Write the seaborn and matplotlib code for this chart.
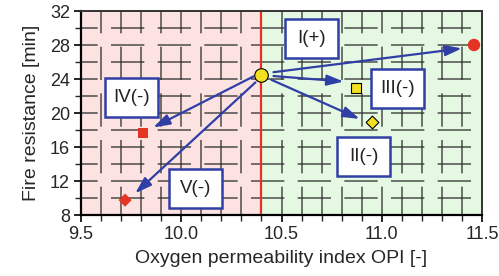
"""Fire resistance vs oxygen permeability index, with improvement arrows."""

import matplotlib
matplotlib.use("Agg")
import matplotlib.pyplot as plt
from matplotlib.patches import Rectangle
from matplotlib.ticker import MultipleLocator, FormatStrFormatter
import seaborn as sns

# data
ref_opi = 10.4
ref_fire = 24.5

target_opi = [11.46, 10.87, 10.95, 9.81, 9.72]
target_fire = [28.0, 23.0, 18.9, 17.6, 9.75]
target_marker = ["o", "s", "D", "s", "D"]
target_color = ["#e53324", "#f3e022", "#f3e022", "#e53324", "#e53324"]
target_size = [80, 50, 42, 50, 45]
target_edge = ["none", "black", "black", "none", "none"]

# arrow tips (arrows stop a little before each point)
tip_opi = [11.40, 10.81, 10.89, 9.86, 9.77]
tip_fire = [27.6, 23.7, 19.3, 18.3, 10.55]
start_opi = [10.46, 10.46, 10.45, 10.36, 10.37]
start_fire = [24.8, 24.35, 23.9, 24.3, 23.6]

labels = ["I(+)", "III(-)", "II(-)", "IV(-)", "V(-)"]
label_opi = [10.65, 11.08, 10.91, 9.75, 10.07]
label_fire = [28.8, 22.9, 14.9, 21.8, 11.1]

sns.set_style("ticks")
plt.rcParams["font.family"] = ["Liberation Sans", "DejaVu Sans"]

fig = plt.figure(figsize=(4.99, 2.76), dpi=100)
ax = fig.add_axes([81 / 499, 1 - 215 / 276, 401 / 499, 204 / 276])

ax.set_xlim(9.5, 11.5)
ax.set_ylim(8, 32)

# coloured halves
ax.axvspan(9.5, ref_opi, color="#fde2e2", zorder=0)
ax.axvspan(ref_opi, 11.5, color="#e5f8e1", zorder=0)

ax.xaxis.set_major_locator(MultipleLocator(0.5))
ax.xaxis.set_minor_locator(MultipleLocator(0.1))
ax.yaxis.set_major_locator(MultipleLocator(4))
ax.yaxis.set_minor_locator(MultipleLocator(2))
ax.xaxis.set_major_formatter(FormatStrFormatter("%.1f"))

# broken grid lines like in the original
ax.grid(False)
for x in [9.5 + 0.1 * i for i in range(1, 20)]:
    ax.plot([x, x], [8, 32], color="#333333", lw=1.2, alpha=0.8,
            linestyle=(3, (20, 8)), zorder=1)
for y in range(10, 32, 2):
    ax.plot([9.5, 11.5], [y, y], color="#333333", lw=1.2, alpha=0.8,
            linestyle=(10, (20, 8)), zorder=1)

ax.axvline(ref_opi, color="#e53324", lw=1.6, zorder=2)

for i in range(len(labels)):
    ax.annotate("", xy=(tip_opi[i], tip_fire[i]),
                xytext=(start_opi[i], start_fire[i]),
                arrowprops=dict(arrowstyle="-|>,head_length=1.0,head_width=0.32",
                                color="#2f3fa6", lw=1.6, shrinkA=0, shrinkB=0),
                zorder=4)

for i in range(len(target_opi)):
    sns.scatterplot(x=[target_opi[i]], y=[target_fire[i]], marker=target_marker[i],
                    s=target_size[i], color=target_color[i],
                    edgecolor=target_edge[i], linewidth=0.8, ax=ax, zorder=5,
                    legend=False)
sns.scatterplot(x=[ref_opi], y=[ref_fire], marker="o", s=95, color="#f3e022",
                edgecolor="black", linewidth=0.8, ax=ax, zorder=6, legend=False)

# fixed-size label boxes
box_w = 0.264
box_h = 4.6
for i in range(len(labels)):
    ax.add_patch(Rectangle((label_opi[i] - box_w / 2, label_fire[i] - box_h / 2),
                           box_w, box_h, fc="white", ec="#2f3fa6", lw=1.8,
                           zorder=7))
    ax.text(label_opi[i], label_fire[i], labels[i], ha="center", va="center",
            fontsize=13.5, color="#222222", zorder=8)

ax.set_xlabel("Oxygen permeability index OPI [-]", fontsize=14, labelpad=5)
ax.set_ylabel("Fire resistance [min]", fontsize=14, labelpad=7)
ax.tick_params(axis="both", which="major", labelsize=13, length=5, width=1.2,
               direction="out", color="black", pad=3)
ax.tick_params(axis="both", which="minor", length=4, width=1.0, direction="out")

for side in ["left", "bottom"]:
    ax.spines[side].set_linewidth(1.6)
    ax.spines[side].set_color("black")
for side in ["top", "right"]:
    ax.spines[side].set_visible(True)
    ax.spines[side].set_linewidth(1.4)
    ax.spines[side].set_color("#333333")

fig.savefig("out.png", dpi=100)
